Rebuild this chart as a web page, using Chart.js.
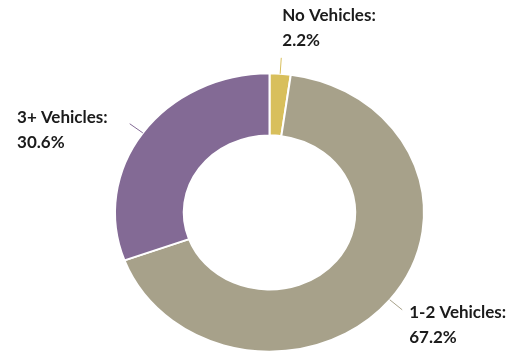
<!DOCTYPE html>
<html>
<head>
<meta charset="utf-8">
<script src="https://cdn.jsdelivr.net/npm/chart.js@4"></script>
<style>
  html, body { margin: 0; padding: 0; background: #fff; overflow: hidden; width: 516px; height: 351px; }
  canvas { display: block; }
</style>
</head>
<body>
<canvas id="vehicles" width="516" height="368"></canvas>
<script>
// households by number of vehicles
var categories = ['No Vehicles', '1-2 Vehicles', '3+ Vehicles'];
var shares = [2.2, 67.2, 30.6];
var sliceColors = ['#d8bf5c', '#a7a18a', '#836a95'];

// the original ring is a bit flattened
var squashY = 0.9;

var squash = {
    id: 'squash',
    beforeDatasetsDraw: function (chart) {
        var arc = chart.getDatasetMeta(0).data[0];
        var ctx = chart.ctx;
        ctx.save();
        ctx.translate(arc.x, arc.y);
        ctx.scale(1, squashY);
        ctx.translate(-arc.x, -arc.y);
    },
    afterDatasetsDraw: function (chart) {
        chart.ctx.restore();
    }
};

//labels with leader lines
var sliceLabels = {
    id: 'sliceLabels',
    afterDraw: function (chart) {
        var ctx = chart.ctx;
        var arcs = chart.getDatasetMeta(0).data;
        ctx.save();
        ctx.font = 'bold 17px Lato';
        ctx.textBaseline = 'alphabetic';
        ctx.textAlign = 'left';
        arcs.forEach(function (arc, i) {
            var a = (arc.startAngle + arc.endAngle) / 2;
            var r = arc.outerRadius;
            var sx = arc.x + r * Math.cos(a);
            var sy = arc.y + r * Math.sin(a) * squashY;
            var ex = sx + 16 * Math.cos(a);
            var ey = sy + 16 * Math.sin(a);
            ctx.strokeStyle = sliceColors[i];
            ctx.lineWidth = 1;
            ctx.beginPath();
            ctx.moveTo(sx, sy);
            ctx.lineTo(ex, ey);
            ctx.stroke();

            var lines = [categories[i] + ':', shares[i].toFixed(1) + '%'];
            var tx, ty;
            if (Math.sin(a) < -0.9) {
                tx = ex + 1;
                ty = ey - 37;
            } else if (Math.cos(a) >= 0) {
                tx = ex + 7;
                ty = ey + 8;
            } else {
                var w = Math.max(ctx.measureText(lines[0]).width, ctx.measureText(lines[1]).width);
                tx = ex - 22 - w;
                ty = ey - 1;
            }
            ctx.fillStyle = '#1b1b1b';
            ctx.fillText(lines[0], tx, ty);
            ctx.fillText(lines[1], tx, ty + 25);
        });
        ctx.restore();
    }
};

var ctx = document.getElementById('vehicles').getContext('2d');
var vehicleChart = new Chart(ctx, {
    type: 'doughnut',
    data: {
        labels: categories,
        datasets: [{
            data: shares,
            backgroundColor: sliceColors,
            borderColor: '#ffffff',
            borderWidth: 2
        }]
    },
    options: {
        responsive: false,
        animation: false,
        events: [],
        cutout: '55.5%',
        layout: {
            padding: { left: 114, right: 91, top: 57, bottom: 0 }
        },
        plugins: {
            legend: { display: false },
            tooltip: { enabled: false }
        }
    },
    plugins: [squash, sliceLabels]
});
</script>
</body>
</html>
